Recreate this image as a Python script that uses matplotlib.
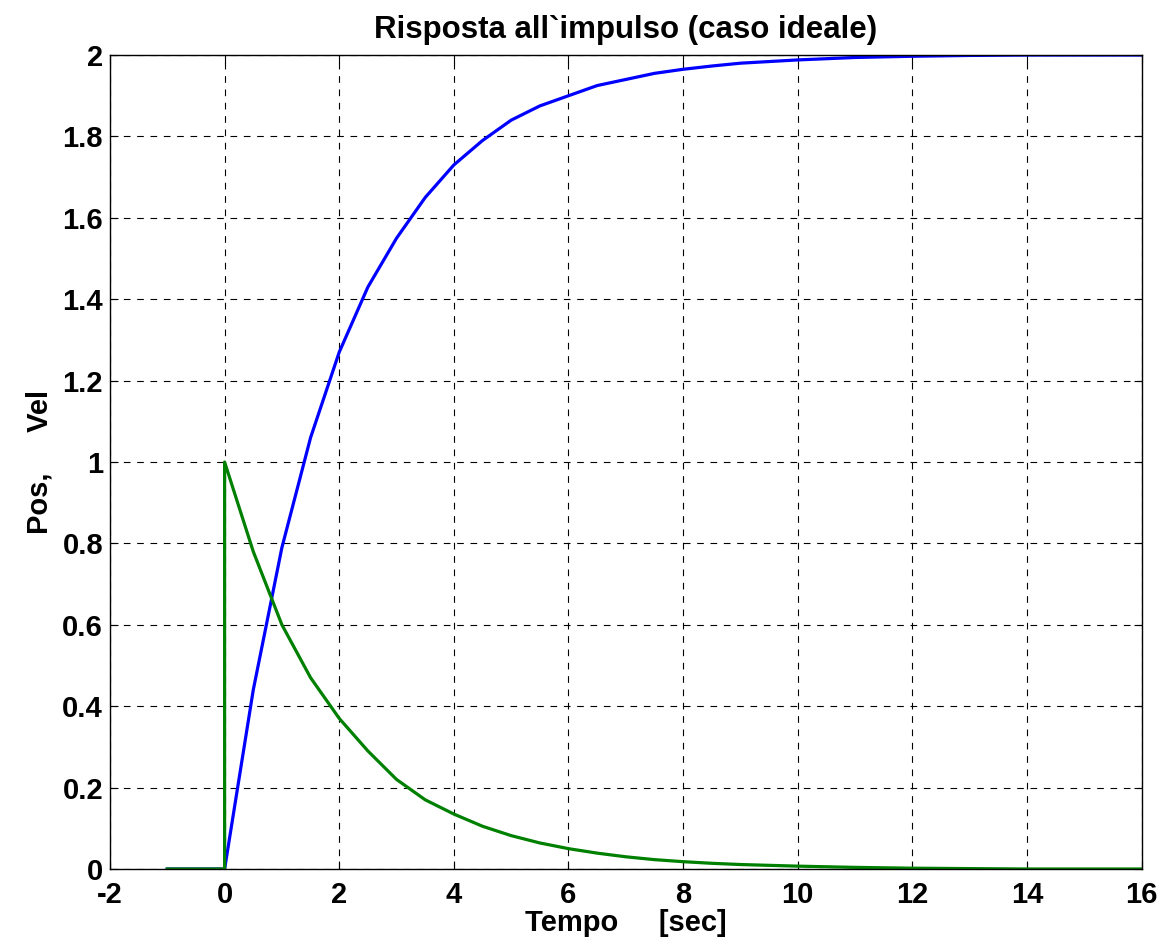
import matplotlib.pyplot as plt
import numpy as np

plt.rcParams['font.family'] = ['Liberation Sans', 'DejaVu Sans']
plt.rcParams['font.weight'] = 'bold'

# time samples
t = [-1.0, 0.0, 0.5, 1.0, 1.5, 2.0, 2.5, 3.0, 3.5, 4.0, 4.5, 5.0, 5.5, 6.0,
     6.5, 7.0, 7.5, 8.0, 8.5, 9.0, 9.5, 10.0, 11.0, 12.0, 13.0, 14.0, 16.0]
pos = [0.0, 0.0, 0.44, 0.79, 1.06, 1.27, 1.43, 1.55, 1.65, 1.73, 1.79, 1.84,
       1.875, 1.90, 1.925, 1.94, 1.955, 1.965, 1.973, 1.98, 1.984, 1.988,
       1.994, 1.997, 1.999, 2.0, 2.0]
vel_t = [-1.0, 0.0] + t[1:]
vel = [0.0, 0.0, 1.0, 0.78, 0.60, 0.47, 0.37, 0.29, 0.22, 0.17, 0.135, 0.105,
       0.082, 0.064, 0.05, 0.039, 0.030, 0.023, 0.018, 0.014, 0.011, 0.009,
       0.007, 0.004, 0.002, 0.001, 0.0, 0.0]
xticks = [-2, 0, 2, 4, 6, 8, 10, 12, 14, 16]
yticks = [0, 0.2, 0.4, 0.6, 0.8, 1, 1.2, 1.4, 1.6, 1.8, 2]
yticklabels = ['0', '0.2', '0.4', '0.6', '0.8', '1', '1.2', '1.4', '1.6', '1.8', '2']

fig = plt.figure(figsize=(11.75, 9.49), dpi=100)
ax = fig.add_axes([0.0936, 0.0843, 0.878, 0.8577])

ax.plot(t, pos, color='#0000ff', lw=2.3)
ax.plot(vel_t, vel, color='#008000', lw=2.3)

ax.set_xlim(-2, 16)
ax.set_ylim(0, 2)
ax.set_xticks(xticks)
ax.set_xticklabels([str(v) for v in xticks])
ax.set_yticks(yticks)
ax.set_yticklabels(yticklabels)
ax.grid(True, color='black', linestyle=(0, (6, 6)), linewidth=0.8)
ax.tick_params(direction='in', top=True, right=True, length=6, labelsize=21)
ax.tick_params(axis='x', pad=9)
ax.tick_params(axis='y', pad=5)
for s in ax.spines.values():
    s.set_linewidth(1.0)

ax.set_title('Risposta all`impulso (caso ideale)', fontsize=22.5, fontweight='bold', pad=12)
ax.set_xlabel('Tempo     [sec]', fontsize=21, fontweight='bold', labelpad=0)
ax.set_ylabel('Pos,     Vel', fontsize=21, fontweight='bold', labelpad=6)

fig.savefig('out.png', dpi=100)
